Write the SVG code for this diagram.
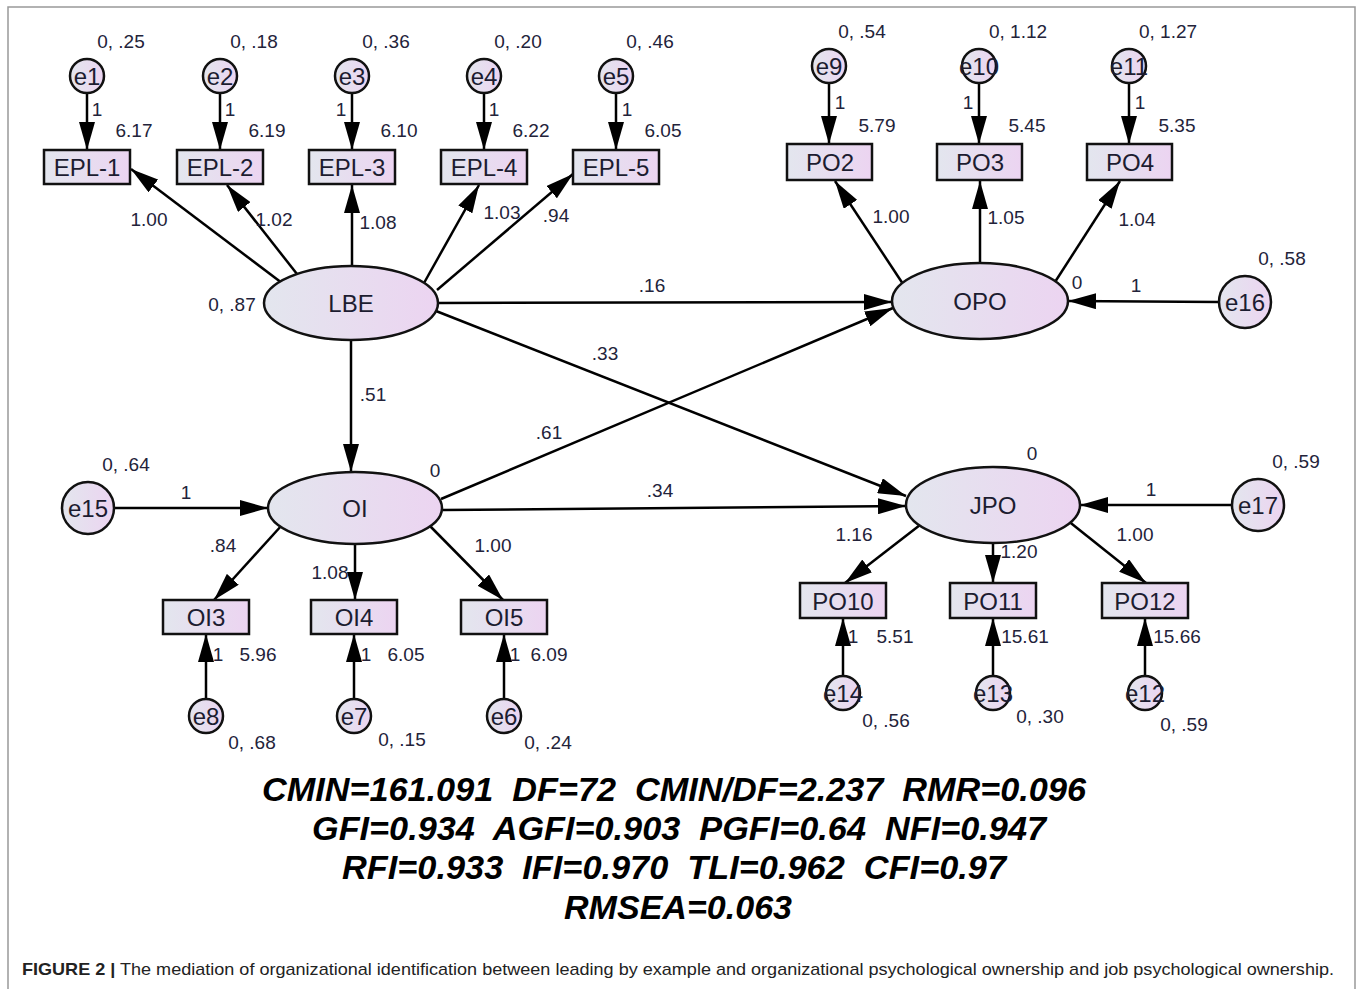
<svg xmlns="http://www.w3.org/2000/svg" width="1360" height="989" viewBox="0 0 1360 989">
<defs>
<linearGradient id="g" x1="0" y1="0" x2="1" y2="0">
<stop offset="0" stop-color="#e3e6ee"/>
<stop offset="1" stop-color="#ecd4f1"/>
</linearGradient>
<marker id="ah" markerWidth="28" markerHeight="16" refX="28" refY="8" orient="auto" markerUnits="userSpaceOnUse">
<path d="M0,0 L28,8 L0,16 z" fill="#000"/>
</marker>
<style>
.n{fill:url(#g);stroke:#111;stroke-width:2.5}
.nl{font-family:"Liberation Sans",Arial,sans-serif;font-size:24px;fill:#1c1c30;text-anchor:middle;dominant-baseline:central}
.v{font-family:"Liberation Sans",Arial,sans-serif;font-size:19px;fill:#23233a;text-anchor:middle}
.c line{stroke:#000;stroke-width:2.5;marker-end:url(#ah)}
.st{font-family:"Liberation Sans",Arial,sans-serif;font-size:33px;font-weight:bold;font-style:italic;fill:#000;text-anchor:middle}
</style>
</defs>
<rect width="1360" height="989" fill="#fff"/>
<path d="M8,989 V7 H1355 V989" fill="none" stroke="#999" stroke-width="1.5"/>

<g class="c" id="connectors">
<line x1="87" y1="93" x2="87" y2="150"/>
<line x1="220" y1="93" x2="220" y2="150"/>
<line x1="352" y1="93" x2="352" y2="150"/>
<line x1="484" y1="93" x2="484" y2="150"/>
<line x1="616" y1="93" x2="616" y2="150"/>
<line x1="829" y1="83" x2="829" y2="144"/>
<line x1="979" y1="83" x2="979" y2="144"/>
<line x1="1129" y1="83" x2="1129" y2="144"/>
<line x1="282" y1="283" x2="131" y2="169"/>
<line x1="297" y1="274" x2="227" y2="185"/>
<line x1="352" y1="267" x2="352" y2="185"/>
<line x1="424" y1="283" x2="479" y2="185"/>
<line x1="437" y1="290" x2="573" y2="174"/>
<line x1="438" y1="303" x2="892" y2="302"/>
<line x1="436" y1="311" x2="906" y2="496"/>
<line x1="351" y1="340" x2="351" y2="472"/>
<line x1="441" y1="499" x2="893" y2="308"/>
<line x1="443" y1="510" x2="906" y2="506"/>
<line x1="114" y1="508" x2="268" y2="508"/>
<line x1="1219" y1="302" x2="1068" y2="301"/>
<line x1="1232" y1="505" x2="1080" y2="505"/>
<line x1="903" y1="284" x2="835" y2="181"/>
<line x1="980" y1="263" x2="980" y2="181"/>
<line x1="1055" y1="282" x2="1120" y2="181"/>
<line x1="282" y1="525" x2="214" y2="600"/>
<line x1="355" y1="545" x2="355" y2="600"/>
<line x1="429" y1="525" x2="503" y2="600"/>
<line x1="206" y1="699" x2="206" y2="634"/>
<line x1="354" y1="699" x2="354" y2="634"/>
<line x1="504" y1="699" x2="504" y2="634"/>
<line x1="920" y1="525" x2="845" y2="583"/>
<line x1="993" y1="543" x2="993" y2="583"/>
<line x1="1067" y1="520" x2="1146" y2="583"/>
<line x1="843" y1="676" x2="843" y2="618"/>
<line x1="993" y1="676" x2="993" y2="618"/>
<line x1="1145" y1="676" x2="1145" y2="618"/>
</g>

<g id="path-labels">
<text class="v" x="97" y="116">1</text>
<text class="v" x="230" y="116">1</text>
<text class="v" x="341" y="116">1</text>
<text class="v" x="494" y="116">1</text>
<text class="v" x="627" y="116">1</text>
<text class="v" x="840" y="109">1</text>
<text class="v" x="968" y="109">1</text>
<text class="v" x="1140" y="109">1</text>
<text class="v" x="149" y="226">1.00</text>
<text class="v" x="274" y="226">1.02</text>
<text class="v" x="378" y="229">1.08</text>
<text class="v" x="502" y="219">1.03</text>
<text class="v" x="556" y="222">.94</text>
<text class="v" x="652" y="292">.16</text>
<text class="v" x="605" y="360">.33</text>
<text class="v" x="373" y="401">.51</text>
<text class="v" x="549" y="439">.61</text>
<text class="v" x="660" y="497">.34</text>
<text class="v" x="186" y="499">1</text>
<text class="v" x="1136" y="292">1</text>
<text class="v" x="1151" y="496">1</text>
<text class="v" x="891" y="223">1.00</text>
<text class="v" x="1006" y="224">1.05</text>
<text class="v" x="1137" y="226">1.04</text>
<text class="v" x="223" y="552">.84</text>
<text class="v" x="330" y="579">1.08</text>
<text class="v" x="493" y="552">1.00</text>
<text class="v" x="218" y="661">1</text>
<text class="v" x="366" y="661">1</text>
<text class="v" x="515" y="661">1</text>
<text class="v" x="854" y="541">1.16</text>
<text class="v" x="1019" y="558">1.20</text>
<text class="v" x="1135" y="541">1.00</text>
<text class="v" x="853" y="643">1</text>
</g>

<g id="e1"><ellipse class="n" cx="87" cy="76" rx="17" ry="17"/><text class="nl" x="87" y="76">e1</text><text class="v" x="121" y="48">0, .25</text></g>
<g id="e2"><ellipse class="n" cx="220" cy="76" rx="17" ry="17"/><text class="nl" x="220" y="76">e2</text><text class="v" x="254" y="48">0, .18</text></g>
<g id="e3"><ellipse class="n" cx="352" cy="76" rx="17" ry="17"/><text class="nl" x="352" y="76">e3</text><text class="v" x="386" y="48">0, .36</text></g>
<g id="e4"><ellipse class="n" cx="484" cy="76" rx="17" ry="17"/><text class="nl" x="484" y="76">e4</text><text class="v" x="518" y="48">0, .20</text></g>
<g id="e5"><ellipse class="n" cx="616" cy="76" rx="17" ry="17"/><text class="nl" x="616" y="76">e5</text><text class="v" x="650" y="48">0, .46</text></g>

<g id="EPL-1"><rect class="n" x="44" y="150" width="86" height="34"/><text class="nl" x="87" y="167">EPL-1</text><text class="v" x="134" y="137">6.17</text></g>
<g id="EPL-2"><rect class="n" x="177" y="150" width="86" height="34"/><text class="nl" x="220" y="167">EPL-2</text><text class="v" x="267" y="137">6.19</text></g>
<g id="EPL-3"><rect class="n" x="309" y="150" width="86" height="34"/><text class="nl" x="352" y="167">EPL-3</text><text class="v" x="399" y="137">6.10</text></g>
<g id="EPL-4"><rect class="n" x="441" y="150" width="86" height="34"/><text class="nl" x="484" y="167">EPL-4</text><text class="v" x="531" y="137">6.22</text></g>
<g id="EPL-5"><rect class="n" x="573" y="150" width="86" height="34"/><text class="nl" x="616" y="167">EPL-5</text><text class="v" x="663" y="137">6.05</text></g>

<g id="e9"><ellipse class="n" cx="829" cy="66" rx="17" ry="17"/><text class="nl" x="829" y="66">e9</text><text class="v" x="862" y="38">0, .54</text></g>
<g id="e10"><ellipse class="n" cx="979" cy="66" rx="17" ry="17"/><text class="nl" x="979" y="66">e10</text><text class="v" x="1018" y="38">0, 1.12</text></g>
<g id="e11"><ellipse class="n" cx="1129" cy="66" rx="17" ry="17"/><text class="nl" x="1129" y="66">e11</text><text class="v" x="1168" y="38">0, 1.27</text></g>

<g id="PO2"><rect class="n" x="787" y="144" width="85" height="36"/><text class="nl" x="830" y="162">PO2</text><text class="v" x="877" y="132">5.79</text></g>
<g id="PO3"><rect class="n" x="937" y="144" width="85" height="36"/><text class="nl" x="980" y="162">PO3</text><text class="v" x="1027" y="132">5.45</text></g>
<g id="PO4"><rect class="n" x="1087" y="144" width="85" height="36"/><text class="nl" x="1130" y="162">PO4</text><text class="v" x="1177" y="132">5.35</text></g>

<g id="LBE"><ellipse class="n" cx="351" cy="303" rx="87" ry="37"/><text class="nl" x="351" y="303">LBE</text><text class="v" x="232" y="311">0, .87</text></g>
<g id="OPO"><ellipse class="n" cx="980" cy="301" rx="88" ry="38"/><text class="nl" x="980" y="301">OPO</text><text class="v" x="1077" y="289">0</text></g>
<g id="e16"><ellipse class="n" cx="1245" cy="302" rx="26" ry="26"/><text class="nl" x="1245" y="302">e16</text><text class="v" x="1282" y="265">0, .58</text></g>
<g id="OI"><ellipse class="n" cx="355" cy="508" rx="87" ry="36"/><text class="nl" x="355" y="508">OI</text><text class="v" x="435" y="477">0</text></g>
<g id="e15"><ellipse class="n" cx="88" cy="508" rx="26" ry="26"/><text class="nl" x="88" y="508">e15</text><text class="v" x="126" y="471">0, .64</text></g>
<g id="JPO"><ellipse class="n" cx="993" cy="505" rx="87" ry="38"/><text class="nl" x="993" y="505">JPO</text><text class="v" x="1032" y="460">0</text></g>
<g id="e17"><ellipse class="n" cx="1258" cy="505" rx="26" ry="26"/><text class="nl" x="1258" y="505">e17</text><text class="v" x="1296" y="468">0, .59</text></g>

<g id="OI3"><rect class="n" x="163" y="600" width="86" height="34"/><text class="nl" x="206" y="617">OI3</text><text class="v" x="258" y="661">5.96</text></g>
<g id="OI4"><rect class="n" x="311" y="600" width="86" height="34"/><text class="nl" x="354" y="617">OI4</text><text class="v" x="406" y="661">6.05</text></g>
<g id="OI5"><rect class="n" x="461" y="600" width="86" height="34"/><text class="nl" x="504" y="617">OI5</text><text class="v" x="549" y="661">6.09</text></g>
<g id="e8"><ellipse class="n" cx="206" cy="716" rx="17" ry="17"/><text class="nl" x="206" y="716">e8</text><text class="v" x="252" y="749">0, .68</text></g>
<g id="e7"><ellipse class="n" cx="354" cy="716" rx="17" ry="17"/><text class="nl" x="354" y="716">e7</text><text class="v" x="402" y="746">0, .15</text></g>
<g id="e6"><ellipse class="n" cx="504" cy="716" rx="17" ry="17"/><text class="nl" x="504" y="716">e6</text><text class="v" x="548" y="749">0, .24</text></g>

<g id="PO10"><rect class="n" x="800" y="583" width="86" height="35"/><text class="nl" x="843" y="601">PO10</text><text class="v" x="895" y="643">5.51</text></g>
<g id="PO11"><rect class="n" x="950" y="583" width="86" height="35"/><text class="nl" x="993" y="601">PO11</text><text class="v" x="1025" y="643">15.61</text></g>
<g id="PO12"><rect class="n" x="1102" y="583" width="86" height="35"/><text class="nl" x="1145" y="601">PO12</text><text class="v" x="1177" y="643">15.66</text></g>
<g id="e14"><ellipse class="n" cx="843" cy="693" rx="17" ry="17"/><text class="nl" x="843" y="693">e14</text><text class="v" x="886" y="727">0, .56</text></g>
<g id="e13"><ellipse class="n" cx="993" cy="693" rx="17" ry="17"/><text class="nl" x="993" y="693">e13</text><text class="v" x="1040" y="723">0, .30</text></g>
<g id="e12"><ellipse class="n" cx="1145" cy="693" rx="17" ry="17"/><text class="nl" x="1145" y="693">e12</text><text class="v" x="1184" y="731">0, .59</text></g>

<g id="fit-stats">
<text class="st" x="674" y="801" textLength="824" lengthAdjust="spacingAndGlyphs" xml:space="preserve">CMIN=161.091  DF=72  CMIN/DF=2.237  RMR=0.096</text>
<text class="st" x="679" y="840" textLength="734" lengthAdjust="spacingAndGlyphs" xml:space="preserve">GFI=0.934  AGFI=0.903  PGFI=0.64  NFI=0.947</text>
<text class="st" x="674" y="879" textLength="664" lengthAdjust="spacingAndGlyphs" xml:space="preserve">RFI=0.933  IFI=0.970  TLI=0.962  CFI=0.97</text>
<text class="st" x="678" y="919" textLength="228" lengthAdjust="spacingAndGlyphs">RMSEA=0.063</text>
</g>

<text x="22" y="975" font-family="'Liberation Sans',Arial,sans-serif" font-size="17" fill="#222" textLength="1312" lengthAdjust="spacingAndGlyphs"><tspan font-weight="bold">FIGURE 2 |</tspan> The mediation of organizational identification between leading by example and organizational psychological ownership and job psychological ownership.</text>
</svg>
